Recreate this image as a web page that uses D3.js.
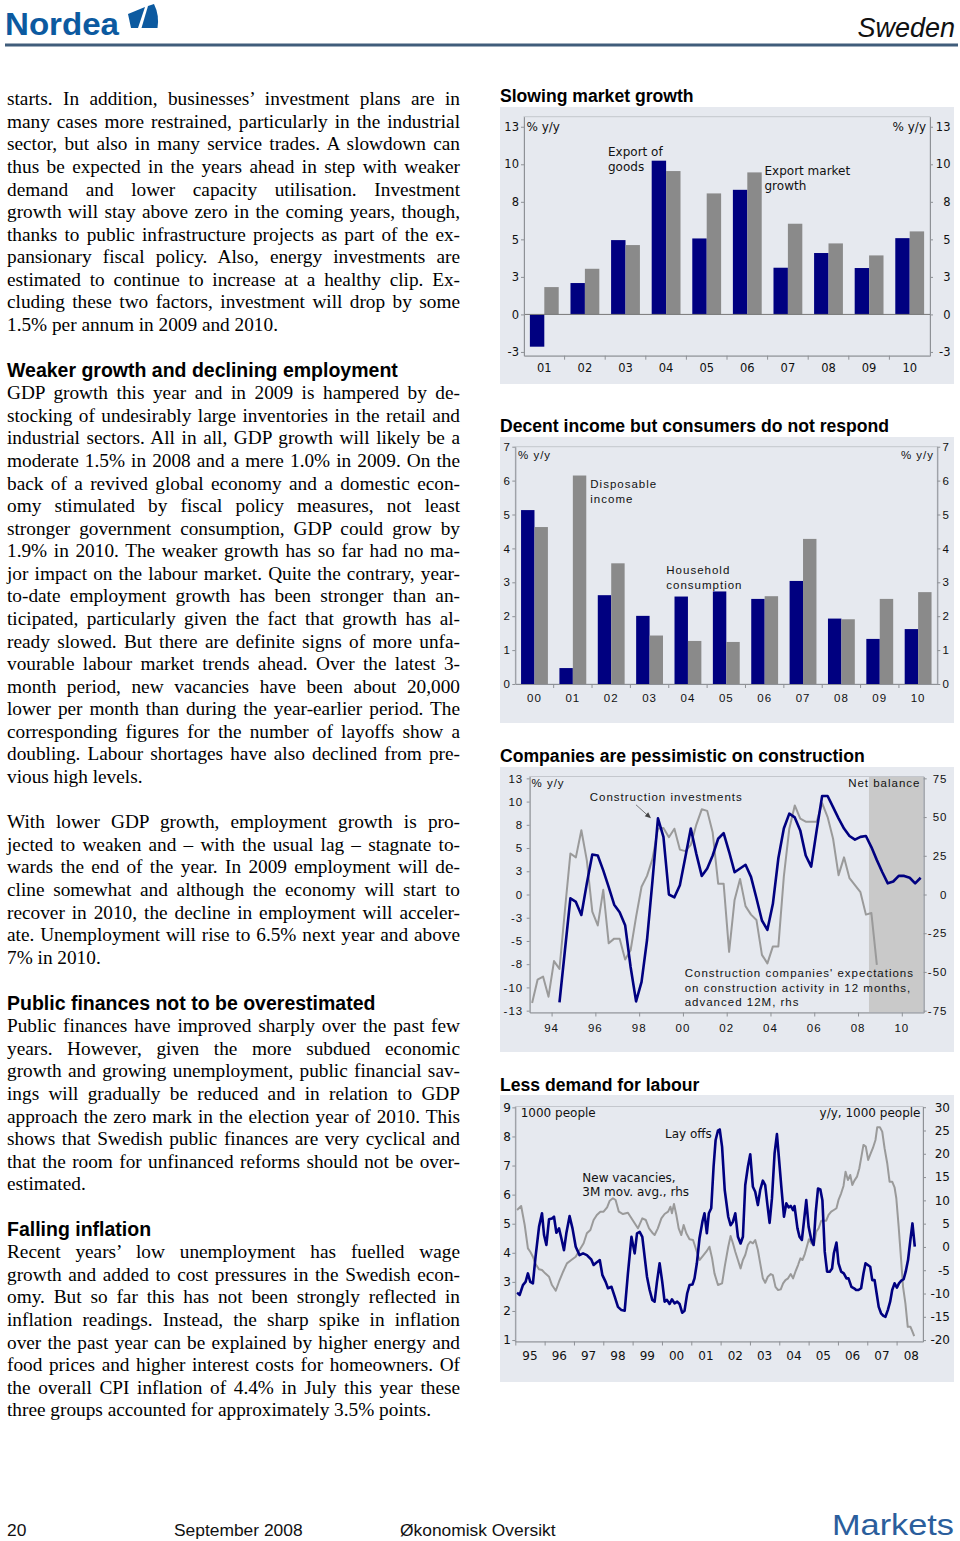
<!DOCTYPE html>
<html>
<head>
<meta charset="utf-8">
<script src="https://cdn.jsdelivr.net/npm/d3@7/dist/d3.min.js"></script>
<style>
html,body{margin:0;padding:0;background:#fff;}
#page{position:relative;width:960px;height:1541px;overflow:hidden;background:#fff;}
#page svg{position:absolute;left:0;top:0;}
.tl{position:absolute;left:7px;width:453px;font-family:"Liberation Serif","Times New Roman",serif;font-size:19.3px;line-height:22.6px;color:#000;white-space:normal;}
.tl.j{text-align:justify;text-align-last:justify;word-spacing:-1px;}
</style>
</head>
<body>
<div id="page"></div>
<script>
// ---------------- DATA ----------------
// Chart 1: Slowing market growth (% y/y)
const c1Years = ["01","02","03","04","05","06","07","08","09","10"];
const c1ExportGoods = [-2.15, 2.09, 4.95, 10.24, 5.06, 8.30, 3.11, 4.09, 3.09, 5.08];
const c1ExportMarket = [1.82, 3.04, 4.62, 9.55, 8.06, 9.46, 6.04, 4.73, 3.93, 5.53];
const c1TickValues = [-2.5, 0, 2.5, 5, 7.5, 10, 12.5];
const c1TickLabels = ["-3","0","3","5","8","10","13"];

// Chart 2: Decent income but consumers do not respond (% y/y)
const c2Years = ["00","01","02","03","04","05","06","07","08","09","10"];
const c2Consumption = [5.13, 0.47, 2.62, 2.01, 2.58, 2.73, 2.51, 3.04, 1.93, 1.33, 1.62];
const c2Income = [4.63, 6.15, 3.56, 1.43, 1.27, 1.24, 2.59, 4.28, 1.91, 2.51, 2.71];
const c2TickValues = [0,1,2,3,4,5,6,7];
const c2TickLabels = ["0","1","2","3","4","5","6","7"];

// Chart 3: Companies are pessimistic on construction (quarterly)
const c3InvestStart = [1994, 2]; // year, quarter
const c3Investment = [
  -11.6, -6.0, -0.4,
  -0.8, -2.2, 1.2, 4.3,
  4.2, 2.6, 0.8, -1.1,
  -1.9, -3.3, -7.8, -11.5,
  -9.4, -4.9, 1.5, 8.2,
  6.2, 0.0, -0.3, 1.0,
  4.0, 7.1, 4.4, 2.0,
  2.8, 4.2, 6.0, 6.6,
  4.6, 2.4, 2.8, 3.2,
  1.9, -0.4, -2.8, -3.8,
  -1.0, 3.9, 7.1, 8.7,
  8.3, 6.9, 4.2, 3.0,
  6.9, 10.6, 10.6, 9.4,
  8.2, 7.1, 6.3, 5.9,
  6.2, 6.3, 5.1, 3.7,
  2.4, 1.2, 1.4, 2.0,
  2.0, 1.8, 1.2, 1.8
];
const c3ExpectStart = [1993, 1];
const c3Expectations = [
  -70, -55, -53, -66,
  -43, -48, -10, 26.5,
  24, 41.5, 22, -11,
  -20, 3, -31.5, -28.5,
  -28.5, -42, -36, -14.5,
  5, 12, 23, 42.5,
  43, 37, 42.5, 29,
  28, 32, 45, 55,
  54, 40, 7, 7,
  -37, -3.5, 10, -7.5,
  -13, -16.5, -39, -44.5,
  -33.5, -33.5, 11.5, 42.5,
  57.5, 49, 47, 47,
  47, 59, 50, 36,
  12.5, 24, 10.5, 6,
  1.5, -13, -12, -45.5
];
const c3ForecastFrom = 2008.5;
const c3LeftTicks = [-12.5,-10,-7.5,-5,-2.5,0,2.5,5,7.5,10,12.5];
const c3LeftLabels = ["-13","-10","-8","-5","-3","0","3","5","8","10","13"];
const c3RightTicks = [-75,-50,-25,0,25,50,75];
const c3RightLabels = ["-75","-50","-25","0","25","50","75"];
const c3XTicks = [1994,1996,1998,2000,2002,2004,2006,2008,2010];
const c3XLabels = ["94","96","98","00","02","04","06","08","10"];

// Chart 4: Less demand for labour (monthly, [year, value])
const c4Layoffs = [[1995.06,2.63],[1995.15,2.55],[1995.26,2.89],[1995.35,3.0],[1995.43,3.29],[1995.51,3.0],[1995.6,2.95],[1995.69,3.86],[1995.81,4.9],[1995.91,5.36],[1995.98,4.61],[1996.06,4.27],[1996.15,5.15],[1996.25,5.18],[1996.32,5.24],[1996.4,4.69],[1996.49,4.84],[1996.57,4.5],[1996.66,4.09],[1996.74,4.67],[1996.85,5.26],[1996.95,4.84],[1997.06,4.21],[1997.19,3.92],[1997.31,3.98],[1997.44,3.92],[1997.59,3.77],[1997.67,3.58],[1997.76,3.66],[1997.88,3.75],[1997.97,3.23],[1998.08,3.0],[1998.16,2.78],[1998.28,2.83],[1998.39,2.49],[1998.5,2.14],[1998.62,2.03],[1998.73,2.01],[1998.84,3.29],[1998.96,4.55],[1999.07,3.98],[1999.15,4.67],[1999.24,4.72],[1999.33,4.55],[1999.41,3.86],[1999.49,3.18],[1999.58,2.72],[1999.67,2.38],[1999.75,2.32],[1999.83,3.0],[1999.92,3.64],[2000.01,3.0],[2000.09,2.32],[2000.17,2.38],[2000.26,2.24],[2000.34,2.4],[2000.43,2.26],[2000.52,2.32],[2000.6,2.24],[2000.69,1.94],[2000.77,2.01],[2000.86,2.6],[2000.94,2.89],[2001.04,2.91],[2001.11,3.12],[2001.19,3.64],[2001.28,4.5],[2001.38,5.07],[2001.45,5.36],[2001.53,4.67],[2001.6,5.36],[2001.68,5.53],[2001.76,6.96],[2001.83,7.88],[2001.91,8.2],[2001.97,8.24],[2002.05,7.64],[2002.14,6.16],[2002.26,5.24],[2002.34,4.95],[2002.42,5.07],[2002.5,5.36],[2002.59,4.55],[2002.68,4.32],[2002.76,4.55],[2002.84,6.33],[2002.93,6.96],[2003.01,7.39],[2003.1,6.27],[2003.18,6.1],[2003.27,5.64],[2003.35,6.16],[2003.44,6.48],[2003.52,6.33],[2003.59,5.7],[2003.67,5.03],[2003.75,5.87],[2003.84,7.42],[2003.92,8.08],[2003.98,7.36],[2004.07,6.27],[2004.16,5.24],[2004.24,5.7],[2004.32,5.56],[2004.39,5.61],[2004.47,5.47],[2004.52,5.61],[2004.62,4.84],[2004.69,4.55],[2004.77,4.44],[2004.84,5.07],[2004.92,5.81],[2005.0,4.9],[2005.09,4.46],[2005.17,4.27],[2005.24,5.36],[2005.32,6.21],[2005.4,6.18],[2005.47,5.81],[2005.55,4.04],[2005.63,3.35],[2005.72,3.35],[2005.8,3.46],[2005.86,3.98],[2005.95,4.35],[2006.02,3.64],[2006.11,3.35],[2006.2,3.29],[2006.29,3.12],[2006.36,3.12],[2006.46,2.83],[2006.55,2.78],[2006.62,2.72],[2006.7,2.72],[2006.79,2.78],[2006.87,3.29],[2006.94,3.64],[2007.02,3.58],[2007.1,3.52],[2007.17,3.06],[2007.25,3.06],[2007.32,2.6],[2007.39,2.14],[2007.47,1.92],[2007.55,1.83],[2007.62,1.8],[2007.7,2.03],[2007.78,2.32],[2007.85,2.72],[2007.93,2.95],[2008.01,2.8],[2008.08,2.95],[2008.16,3.04],[2008.24,3.09],[2008.31,3.35],[2008.39,3.75],[2008.47,4.44],[2008.54,5.01],[2008.62,4.21]];
const c4Vacancies = [[1995.06,7.93],[1995.2,8.79],[1995.32,4.71],[1995.43,-0.3],[1995.51,-1.03],[1995.6,-2.1],[1995.69,-3.67],[1995.81,-4.81],[1995.91,-4.96],[1996.02,-5.67],[1996.15,-6.4],[1996.25,-8.18],[1996.38,-9.41],[1996.49,-7.47],[1996.63,-5.32],[1996.76,-3.52],[1996.91,-2.81],[1997.06,-2.1],[1997.19,-0.66],[1997.33,0.78],[1997.44,2.93],[1997.56,3.64],[1997.67,5.78],[1997.78,6.86],[1997.9,7.57],[1998.01,7.57],[1998.13,8.51],[1998.22,9.93],[1998.33,10.45],[1998.42,10.08],[1998.53,7.57],[1998.67,7.07],[1998.84,7.35],[1998.96,6.15],[1999.07,5.07],[1999.18,4.0],[1999.33,6.15],[1999.45,5.78],[1999.56,4.0],[1999.67,3.06],[1999.75,2.56],[1999.86,4.0],[1999.98,6.15],[2000.09,7.07],[2000.21,7.57],[2000.29,8.64],[2000.34,7.22],[2000.41,9.22],[2000.49,6.86],[2000.57,4.0],[2000.66,2.56],[2000.74,4.71],[2000.83,2.93],[2000.94,1.64],[2001.06,1.49],[2001.17,-0.66],[2001.28,-2.81],[2001.39,-1.95],[2001.51,-1.03],[2001.62,0.05],[2001.71,-2.45],[2001.79,-5.67],[2001.91,-8.18],[2002.05,-7.82],[2002.14,-4.24],[2002.26,0.05],[2002.34,2.35],[2002.42,0.78],[2002.5,-1.03],[2002.59,-2.81],[2002.68,-4.6],[2002.76,-2.81],[2002.84,-1.74],[2002.93,0.41],[2003.01,1.12],[2003.1,0.78],[2003.18,1.49],[2003.27,-0.66],[2003.35,-3.52],[2003.44,-6.74],[2003.52,-7.69],[2003.61,-6.4],[2003.71,-5.82],[2003.78,-6.03],[2003.87,-8.55],[2003.96,-9.26],[2004.05,-9.11],[2004.13,-7.82],[2004.21,-7.11],[2004.3,-6.74],[2004.39,-5.82],[2004.47,-6.74],[2004.55,-5.32],[2004.64,-3.88],[2004.72,-2.45],[2004.79,-2.81],[2004.87,-1.52],[2004.94,0.05],[2005.01,1.64],[2005.09,0.78],[2005.18,0.41],[2005.26,3.27],[2005.34,4.0],[2005.43,5.63],[2005.51,5.63],[2005.6,5.63],[2005.68,6.86],[2005.77,7.57],[2005.86,7.93],[2005.95,8.3],[2006.02,10.08],[2006.11,11.52],[2006.19,13.09],[2006.26,16.16],[2006.34,14.38],[2006.42,15.45],[2006.49,13.3],[2006.56,14.23],[2006.65,15.09],[2006.73,16.89],[2006.8,19.38],[2006.87,21.9],[2006.95,21.53],[2007.03,18.68],[2007.12,20.12],[2007.19,21.19],[2007.28,22.97],[2007.34,25.7],[2007.43,25.7],[2007.51,24.76],[2007.59,21.19],[2007.68,17.97],[2007.76,14.02],[2007.85,14.02],[2007.93,12.81],[2007.99,10.45],[2008.07,4.35],[2008.15,-2.45],[2008.22,-8.55],[2008.3,-12.11],[2008.38,-17.14],[2008.47,-17.14],[2008.52,-17.85],[2008.6,-19.14]];
const c4LeftTicks = [1,2,3,4,5,6,7,8,9];
const c4RightTicks = [-20,-15,-10,-5,0,5,10,15,20,25,30];
const c4XYears = [1995,1996,1997,1998,1999,2000,2001,2002,2003,2004,2005,2006,2007,2008];
const c4XLabels = ["95","96","97","98","99","00","01","02","03","04","05","06","07","08"];

// Body text
const textBlocks = [
 {baseline:106, lines:[
  "starts. In addition, businesses’ investment plans are in",
  "many cases more restrained, particularly in the industrial",
  "sector, but also in many service trades. A slowdown can",
  "thus be expected in the years ahead in step with weaker",
  "demand and lower capacity utilisation. Investment",
  "growth will stay above zero in the coming years, though,",
  "thanks to public infrastructure projects as part of the ex-",
  "pansionary fiscal policy. Also, energy investments are",
  "estimated to continue to increase at a healthy clip. Ex-",
  "cluding these two factors, investment will drop by some",
  "1.5% per annum in 2009 and 2010."]},
 {heading:"Weaker growth and declining employment", baseline:377},
 {baseline:400, lines:[
  "GDP growth this year and in 2009 is hampered by de-",
  "stocking of undesirably large inventories in the retail and",
  "industrial sectors. All in all, GDP growth will likely be a",
  "moderate 1.5% in 2008 and a mere 1.0% in 2009. On the",
  "back of a revived global economy and a domestic econ-",
  "omy stimulated by fiscal policy measures, not least",
  "stronger government consumption, GDP could grow by",
  "1.9% in 2010. The weaker growth has so far had no ma-",
  "jor impact on the labour market. Quite the contrary, year-",
  "to-date employment growth has been stronger than an-",
  "ticipated, particularly given the fact that growth has al-",
  "ready slowed. But there are definite signs of more unfa-",
  "vourable labour market trends ahead. Over the latest 3-",
  "month period, new vacancies have been about 20,000",
  "lower per month than during the year-earlier period. The",
  "corresponding figures for the number of layoffs show a",
  "doubling. Labour shortages have also declined from pre-",
  "vious high levels."]},
 {baseline:829, lines:[
  "With lower GDP growth, employment growth is pro-",
  "jected to weaken and – with the usual lag – stagnate to-",
  "wards the end of the year. In 2009 employment will de-",
  "cline somewhat and although the economy will start to",
  "recover in 2010, the decline in employment will acceler-",
  "ate. Unemployment will rise to 6.5% next year and above",
  "7% in 2010."]},
 {heading:"Public finances not to be overestimated", baseline:1010},
 {baseline:1033, lines:[
  "Public finances have improved sharply over the past few",
  "years. However, given the more subdued economic",
  "growth and growing unemployment, public financial sav-",
  "ings will gradually be reduced and in relation to GDP",
  "approach the zero mark in the election year of 2010. This",
  "shows that Swedish public finances are very cyclical and",
  "that the room for unfinanced reforms should not be over-",
  "estimated."]},
 {heading:"Falling inflation", baseline:1236},
 {baseline:1259, lines:[
  "Recent years’ low unemployment has fuelled wage",
  "growth and added to cost pressures in the Swedish econ-",
  "omy. But so far this has not been strongly reflected in",
  "inflation readings. Instead, the sharp spike in inflation",
  "over the past year can be explained by higher energy and",
  "food prices and higher interest costs for homeowners. Of",
  "the overall CPI inflation of 4.4% in July this year these",
  "three groups accounted for approximately 3.5% points."]}
];

// ---------------- STYLE ----------------
const FS = '"Liberation Sans", Arial, Helvetica, sans-serif';
const FV = '"DejaVu Sans", Verdana, sans-serif';
const NAVY = '#000080', BARGREY = '#8a8a8a', LINEGREY = '#9a9a9a';
const PANEL = '#e6e9ef', AXISC = '#8e9196', FRAMEC = '#c4c7cd';
const LH = 22.58;

const page = d3.select('#page');
const svg = page.append('svg').attr('width', 960).attr('height', 1541);

// ---------------- HEADER / FOOTER ----------------
svg.append('text').attr('x', 5).attr('y', 35).attr('font-family', FS).attr('font-weight', 'bold')
  .attr('font-size', 32).attr('fill', '#0c5aa0').attr('textLength', 114).attr('lengthAdjust', 'spacingAndGlyphs')
  .text('Nordea');
svg.append('path').attr('d', 'M128,14 L145,7 L138,28 L131,28 Z').attr('fill', '#0c5aa0');
svg.append('path').attr('d', 'M148,6 L154,4 Q159.5,15 157.5,28 L141.5,28 Z').attr('fill', '#0c5aa0');
svg.append('text').attr('x', 955).attr('y', 37).attr('text-anchor', 'end').attr('font-family', FS)
  .attr('font-style', 'italic').attr('font-size', 27).attr('fill', '#111').text('Sweden');
svg.append('rect').attr('x', 5).attr('y', 43.5).attr('width', 953).attr('height', 3).attr('fill', '#405d7b');

[[7, '20'], [174, 'September 2008'], [400, 'Økonomisk Oversikt']].forEach(([x, t]) => {
  svg.append('text').attr('x', x).attr('y', 1536).attr('font-family', FS).attr('font-size', 17.4)
    .attr('fill', '#111').text(t);
});
svg.append('text').attr('x', 832).attr('y', 1534.5).attr('font-family', FS).attr('font-size', 30)
  .attr('textLength', 122).attr('lengthAdjust', 'spacingAndGlyphs').attr('fill', '#2b5e9c').text('Markets');

// ---------------- BODY TEXT ----------------
textBlocks.forEach(b => {
  if (b.heading) {
    svg.append('text').attr('x', 7).attr('y', b.baseline).attr('font-family', FS).attr('font-weight', 'bold')
      .attr('font-size', 19.5).attr('fill', '#000').text(b.heading);
  } else {
    b.lines.forEach((ln, i) => {
      page.append('div').attr('class', i < b.lines.length - 1 ? 'tl j' : 'tl')
        .style('top', (b.baseline + i * LH - 17.8) + 'px').text(ln);
    });
  }
});

// ---------------- HELPERS ----------------
function panel(g, title, titleY, px, py, pw, ph) {
  g.append('text').attr('x', 500).attr('y', titleY).attr('font-family', FS).attr('font-weight', 'bold')
    .attr('font-size', 17.6).attr('fill', '#000').text(title);
  g.append('rect').attr('x', px).attr('y', py).attr('width', pw).attr('height', ph).attr('fill', PANEL);
}
function frame(g, l, r, t, b) {
  g.append('rect').attr('x', l).attr('y', t).attr('width', r - l).attr('height', b - t)
    .attr('fill', 'none').attr('stroke', FRAMEC).attr('stroke-width', 1);
}
function styleAxis(sel, font, size, ls) {
  sel.attr('font-family', null).attr('font-size', null);
  sel.selectAll('path.domain').attr('stroke', AXISC);
  sel.selectAll('.tick line').attr('stroke', AXISC);
  sel.selectAll('.tick text').attr('font-family', font).attr('font-size', size).attr('fill', '#111')
    .attr('letter-spacing', ls || 0);
}
function annot(g, items, font, size, ls) {
  items.forEach(a => {
    g.append('text').attr('x', a[0]).attr('y', a[1]).attr('text-anchor', a[3] || 'start')
      .attr('font-family', font).attr('font-size', size).attr('letter-spacing', ls || 0)
      .attr('fill', '#111').text(a[2]);
  });
}

function barChart(cfg) {
  const g = svg.append('g');
  panel(g, cfg.title, cfg.titleY, 500, cfg.py, 454, cfg.ph);
  const x0 = d3.scaleBand().domain(cfg.cats).range([cfg.l, cfg.r]).paddingInner(cfg.pad).paddingOuter(cfg.pad / 2);
  const x1 = d3.scaleBand().domain(['a', 'b']).range([0, x0.bandwidth()]);
  const y = d3.scaleLinear().domain(cfg.domain).range([cfg.b, cfg.t]);
  frame(g, cfg.l, cfg.r, cfg.t, cfg.b);
  const rows = cfg.cats.map((c, i) => ({c, a: cfg.s1[i], b: cfg.s2[i]}));
  g.selectAll('g.grp').data(rows).join('g').attr('class', 'grp')
    .attr('transform', d => `translate(${x0(d.c)},0)`)
    .selectAll('rect').data(d => [{k: 'a', v: d.a}, {k: 'b', v: d.b}]).join('rect')
    .attr('x', d => x1(d.k)).attr('width', x1.bandwidth())
    .attr('y', d => y(Math.max(0, d.v))).attr('height', d => Math.abs(y(d.v) - y(0)))
    .attr('fill', d => d.k === 'a' ? NAVY : BARGREY);
  if (cfg.domain[0] < 0) {
    g.append('line').attr('x1', cfg.l).attr('x2', cfg.r).attr('y1', y(0)).attr('y2', y(0))
      .attr('stroke', '#777').attr('stroke-width', 1);
  }
  const la = g.append('g').attr('transform', `translate(${cfg.l},0)`)
    .call(d3.axisLeft(y).tickValues(cfg.ticks).tickFormat((d, i) => cfg.labels[i]).tickSize(3).tickSizeOuter(0).tickPadding(cfg.lpad));
  styleAxis(la, cfg.font, cfg.fs, cfg.ls);
  const ra = g.append('g').attr('transform', `translate(${cfg.r},0)`)
    .call(d3.axisRight(y).tickValues(cfg.ticks).tickFormat((d, i) => cfg.labels[i]).tickSize(3).tickSizeOuter(0));
  styleAxis(ra, cfg.font, cfg.fs, cfg.ls);
  ra.selectAll('.tick text').attr('text-anchor', 'end').attr('x', cfg.rEnd - cfg.r);
  const ba = g.append('g').attr('transform', `translate(0,${cfg.b})`)
    .call(d3.axisBottom(x0).tickSize(0).tickSizeOuter(0));
  styleAxis(ba, cfg.font, cfg.fs, cfg.ls);
  ba.selectAll('.tick text').attr('y', cfg.xLabelY - cfg.b).attr('dy', 0);
  const half = (x0.step() - x0.bandwidth()) / 2;
  g.selectAll('line.bt').data(cfg.cats.slice(1)).join('line').attr('class', 'bt')
    .attr('x1', d => x0(d) - half).attr('x2', d => x0(d) - half)
    .attr('y1', cfg.b).attr('y2', cfg.b + 4).attr('stroke', AXISC);
  annot(g, cfg.annots, cfg.font, cfg.afs, cfg.ls);
  return g;
}

function lineChart(cfg) {
  const g = svg.append('g');
  panel(g, cfg.title, cfg.titleY, 500, cfg.py, 454, cfg.ph);
  const x = d3.scaleLinear().domain(cfg.xDomain).range([cfg.l, cfg.r]);
  const yL = d3.scaleLinear().domain(cfg.yLDomain).range([cfg.b, cfg.t]);
  const yR = d3.scaleLinear().domain(cfg.yRDomain).range([cfg.b, cfg.t]);
  if (cfg.shadeFrom != null) {
    g.append('rect').attr('x', x(cfg.shadeFrom)).attr('y', cfg.t).attr('width', cfg.r - x(cfg.shadeFrom))
      .attr('height', cfg.b - cfg.t).attr('fill', '#c9c9c9');
  }
  frame(g, cfg.l, cfg.r, cfg.t, cfg.b);
  g.append('path').datum(cfg.rhs).attr('fill', 'none').attr('stroke', LINEGREY).attr('stroke-width', 2)
    .attr('stroke-linejoin', 'round')
    .attr('d', d3.line().x(d => x(d[0])).y(d => yR(d[1])));
  g.append('path').datum(cfg.lhs).attr('fill', 'none').attr('stroke', NAVY).attr('stroke-width', 2.6)
    .attr('stroke-linejoin', 'round')
    .attr('d', d3.line().x(d => x(d[0])).y(d => yL(d[1])));
  const la = g.append('g').attr('transform', `translate(${cfg.l},0)`)
    .call(d3.axisLeft(yL).tickValues(cfg.lTicks).tickFormat((d, i) => cfg.lLabels[i]).tickSize(3).tickSizeOuter(0).tickPadding(cfg.lpad));
  styleAxis(la, cfg.font, cfg.fs, cfg.ls);
  const ra = g.append('g').attr('transform', `translate(${cfg.r},0)`)
    .call(d3.axisRight(yR).tickValues(cfg.rTicks).tickFormat((d, i) => cfg.rLabels[i]).tickSize(3).tickSizeOuter(0));
  styleAxis(ra, cfg.font, cfg.fs, cfg.ls);
  ra.selectAll('.tick text').attr('text-anchor', 'end').attr('x', cfg.rEnd - cfg.r);
  const ba = g.append('g').attr('transform', `translate(0,${cfg.b})`)
    .call(d3.axisBottom(x).tickValues(cfg.xTicks).tickFormat(() => '').tickSize(4).tickSizeOuter(0));
  styleAxis(ba, cfg.font, cfg.fs, cfg.ls);
  g.selectAll('text.xl').data(cfg.xLabelPos).join('text').attr('class', 'xl')
    .attr('x', d => x(d)).attr('y', cfg.xLabelY).attr('text-anchor', 'middle')
    .attr('font-family', cfg.font).attr('font-size', cfg.fs).attr('letter-spacing', cfg.ls || 0)
    .attr('fill', '#111').text((d, i) => cfg.xLabels[i]);
  annot(g, cfg.annots, cfg.font, cfg.afs, cfg.ls);
  return {g, x, yL, yR};
}

// ---------------- CHART 1 ----------------
barChart({
  title: 'Slowing market growth', titleY: 102, py: 107, ph: 277,
  l: 524, r: 930, t: 116.7, b: 355.7, domain: [-2.75, 13.17], pad: 0.29,
  cats: c1Years, s1: c1ExportGoods, s2: c1ExportMarket,
  ticks: c1TickValues, labels: c1TickLabels, lpad: 2, rEnd: 950.5,
  font: FV, fs: 11.5, afs: 12, ls: 0, xLabelY: 372.5,
  annots: [[526.5, 130.5, '% y/y'], [926, 130.5, '% y/y', 'end'],
           [608, 156, 'Export of'], [608, 171, 'goods'],
           [764.5, 175, 'Export market'], [764.5, 189.5, 'growth']]
});

// ---------------- CHART 2 ----------------
barChart({
  title: 'Decent income but consumers do not respond', titleY: 432, py: 437, ph: 286,
  l: 515.3, r: 937.3, t: 446.7, b: 684, domain: [0, 7], pad: 0.30,
  cats: c2Years, s1: c2Consumption, s2: c2Income,
  ticks: c2TickValues, labels: c2TickLabels, lpad: 1.5, rEnd: 950,
  font: FS, fs: 11.5, afs: 11.5, ls: 1, xLabelY: 702,
  annots: [[518, 459, '% y/y'], [934, 459, '% y/y', 'end'],
           [590.3, 487.5, 'Disposable'], [590.3, 502.5, 'income'],
           [666.3, 573.5, 'Household'], [666.3, 588.5, 'consumption']]
});

// ---------------- CHART 3 ----------------
const qOff = 0.11;
const c3InvPts = c3Investment.map((v, i) => [c3InvestStart[0] + (c3InvestStart[1] - 1) / 4 + i / 4 + qOff, v]);
const c3ExpPts = c3Expectations.map((v, i) => [c3ExpectStart[0] + (c3ExpectStart[1] - 1) / 4 + i / 4 + qOff, v]);
const ch3 = lineChart({
  title: 'Companies are pessimistic on construction', titleY: 762, py: 767, ph: 285,
  l: 529.7, r: 923.7, t: 776.5, b: 1012.5,
  xDomain: [1993, 2011], yLDomain: [-12.7, 12.7], yRDomain: [-76.2, 76.2],
  shadeFrom: c3ForecastFrom, lhs: c3InvPts, rhs: c3ExpPts,
  lTicks: c3LeftTicks, lLabels: c3LeftLabels, rTicks: c3RightTicks, rLabels: c3RightLabels,
  lpad: 3.5, rEnd: 947.5, xTicks: c3XTicks, xLabelPos: c3XTicks, xLabels: c3XLabels, xLabelY: 1032,
  font: FS, fs: 11.5, afs: 11.5, ls: 1,
  annots: [[531.5, 787, '% y/y'], [920.5, 787, 'Net balance', 'end'],
           [589.7, 800.5, 'Construction investments'],
           [684.7, 977, "Construction companies' expectations"],
           [684.7, 991.5, 'on construction activity in 12 months,'],
           [684.7, 1006, 'advanced 12M, rhs']]
});
// arrow to the 1998 peak of construction investments
(function () {
  const peak = c3InvPts.filter(d => d[0] > 1998.5 && d[0] < 1999).reduce((a, b) => (b[1] > a[1] ? b : a));
  const tx = ch3.x(peak[0]) - 7, ty = ch3.yL(peak[1]);
  const sx = tx - 15, sy = ty - 13.5;
  ch3.g.append('line').attr('x1', sx).attr('y1', sy).attr('x2', tx - 2).attr('y2', ty - 1.8)
    .attr('stroke', '#666').attr('stroke-width', 0.9);
  const ang = Math.atan2(ty - sy, tx - sx);
  const hl = 6, hw = 2.6;
  const bx = tx - hl * Math.cos(ang), by = ty - hl * Math.sin(ang);
  ch3.g.append('path').attr('d',
    `M${tx},${ty} L${bx + hw * Math.sin(ang)},${by - hw * Math.cos(ang)} L${bx - hw * Math.sin(ang)},${by + hw * Math.cos(ang)} Z`)
    .attr('fill', '#444');
})();

// ---------------- CHART 4 ----------------
lineChart({
  title: 'Less demand for labour', titleY: 1091, py: 1095, ph: 287,
  l: 515.3, r: 923, t: 1106.5, b: 1341.5,
  xDomain: [1995, 2008.9], yLDomain: [0.95, 9.03], yRDomain: [-20.3, 30.15],
  shadeFrom: null, lhs: c4Layoffs, rhs: c4Vacancies,
  lTicks: c4LeftTicks, lLabels: c4LeftTicks.map(String), rTicks: c4RightTicks, rLabels: c4RightTicks.map(String),
  lpad: 1.5, rEnd: 950, xTicks: c4XYears, xLabelPos: c4XYears.map(y => y + 0.5), xLabels: c4XLabels, xLabelY: 1360,
  font: FV, fs: 12, afs: 12, ls: 0,
  annots: [[520.7, 1117, '1000 people'], [920.5, 1117, 'y/y, 1000 people', 'end'],
           [665, 1137.5, 'Lay offs'],
           [582.3, 1182, 'New vacancies,'], [582.3, 1196, '3M mov. avg., rhs']]
});
</script>
</body>
</html>
